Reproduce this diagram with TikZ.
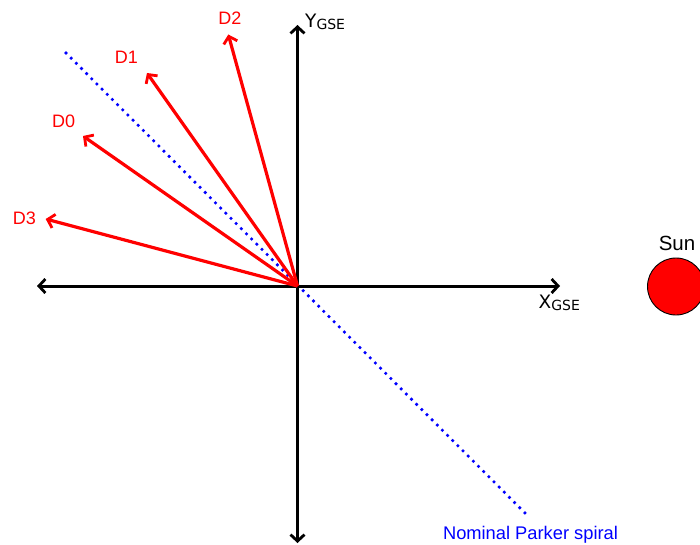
\documentclass[tikz,border=0pt]{standalone}
\usepackage{fontspec}
\setmainfont{Liberation Sans}
\newfontfamily\axisfont{DejaVu Sans}
\usetikzlibrary{arrows.meta}
\definecolor{pured}{RGB}{255,0,0}
\definecolor{pblue}{RGB}{0,0,255}
\tikzset{
  axisline/.style={line width=3pt, black, {Straight Barb[length=6.5pt,width=14pt,line width=2.8pt]}-{Straight Barb[length=6.5pt,width=14pt,line width=2.8pt]}},
  dirarrow/.style={line width=3.2pt, pured, -{Straight Barb[length=6.5pt,width=14pt,line width=2.8pt]}},
  dirlabel/.style={text=pured, font=\fontsize{18}{20}\selectfont, inner sep=0pt},
  axlabel/.style={font=\axisfont\fontsize{18.5}{20}\selectfont, inner sep=0pt, anchor=south west},
  spiral/.style={pblue, line width=3.6pt, line cap=round, dash pattern=on 0pt off 7.3pt},
}
\newcommand{\gsesub}{{\fontsize{14}{14}\selectfont GSE}}
\begin{document}
\begin{tikzpicture}[x=1pt,y=-1pt]
\useasboundingbox (0,0) rectangle (700,545);
\coordinate (O) at (297.5,286);
\coordinate (L) at (37,286);
\coordinate (R) at (560,286);
\coordinate (T) at (297.5,25);
\coordinate (B) at (297.5,543);
\coordinate (P1) at (66,53);
\coordinate (P2) at (530,518);
\coordinate (t2) at (228.3,34.5);
\coordinate (t1) at (147,73);
\coordinate (t0) at (83,136);
\coordinate (t3) at (45.7,219);
% spiral
\draw[spiral] (P1) -- (P2);
% axes
\draw[axisline] (L) -- (R);
\draw[axisline] (B) -- (T);
% directions
\draw[dirarrow] (O) -- (t2);
\draw[dirarrow] (O) -- (t1);
\draw[dirarrow] (O) -- (t0);
\draw[dirarrow] (O) -- (t3);
% labels
\node[dirlabel] (d2) at (230,18.3) {D2};
\node[dirlabel] (d1) at (126.5,57.5) {D1};
\node[dirlabel] (d0) at (63.7,121.3) {D0};
\node[dirlabel] (d3) at (24.3,218.7) {D3};
\node[axlabel] (ylab) at (305,30) {Y\raisebox{-2.5pt}{\gsesub}};
\node[axlabel] (xlab) at (538.5,311) {X\raisebox{-2.5pt}{\gsesub}};
\node[text=pblue, font=\fontsize{18.3}{20}\selectfont, inner sep=0pt] (npl) at (530.5,534.5) {Nominal Parker spiral};
% sun
\node[circle, draw=black, line width=0.9pt, fill=pured, minimum size=57pt, inner sep=0pt] (sun) at (676,286.5) {};
\node[font=\fontsize{20.5}{22}\selectfont, inner sep=0pt] (sunlab) at (677,243.5) {Sun};
\end{tikzpicture}
\end{document}
